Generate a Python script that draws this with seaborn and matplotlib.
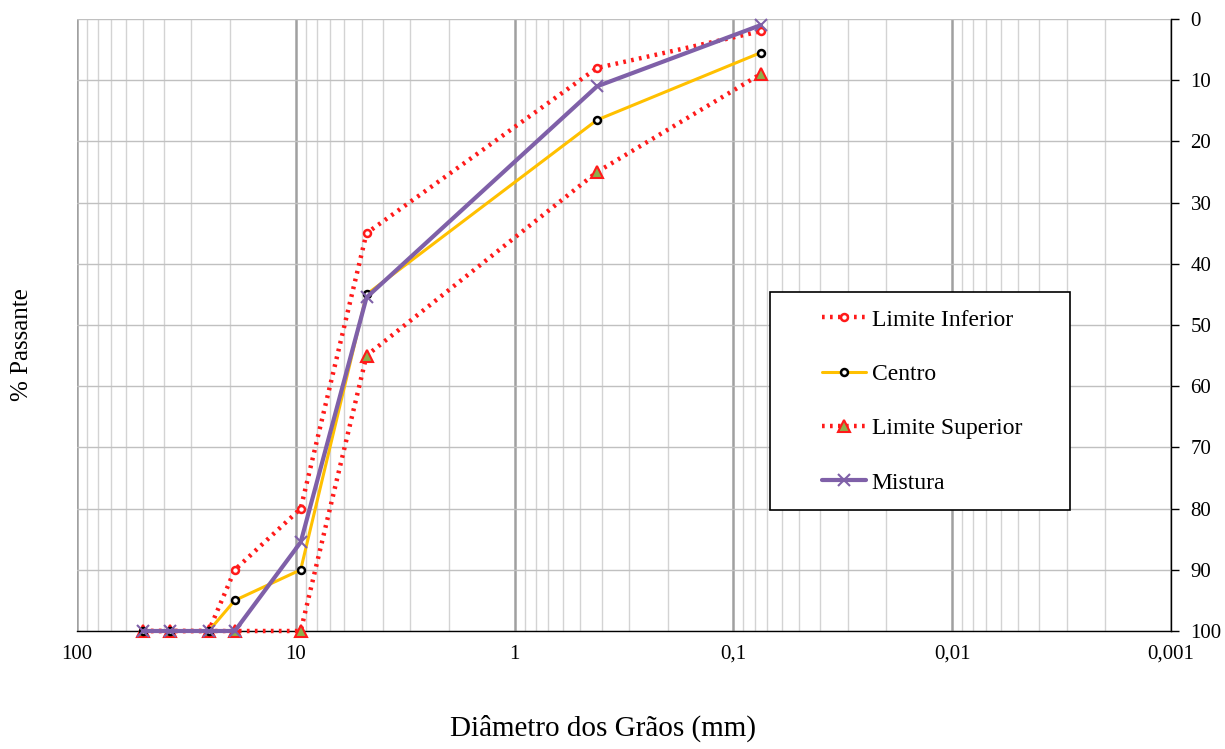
import numpy as np
import pandas as pd
import matplotlib
matplotlib.use("Agg")
import matplotlib.pyplot as plt
import seaborn as sns
from matplotlib.ticker import FixedLocator, LogLocator, NullFormatter
from matplotlib.patches import Rectangle

diametros = [50, 37.5, 25, 19, 9.5, 4.75, 0.42, 0.075]
limite_inferior = [100, 100, 100, 90, 80, 35, 8, 2]
centro = [100, 100, 100, 95, 90, 45, 16.5, 5.5]
limite_superior = [100, 100, 100, 100, 100, 55, 25, 9]
mistura = [100, 100, 100, 100, 85.5, 45.5, 11, 1]

x_ticks = [100, 10, 1, 0.1, 0.01, 0.001]
x_ticklabels = ["100", "10", "1", "0,1", "0,01", "0,001"]
y_ticks = [0, 10, 20, 30, 40, 50, 60, 70, 80, 90, 100]

sns.set_style("white")
plt.rcParams["font.family"] = ["Liberation Serif", "DejaVu Serif"]
plt.rcParams["text.color"] = "black"
plt.rcParams["axes.labelcolor"] = "black"
plt.rcParams["xtick.color"] = "black"
plt.rcParams["ytick.color"] = "black"

W, H = 1225, 749
L, R, T, B = 77, 1171, 19, 631
fig = plt.figure(figsize=(W / 100, H / 100), dpi=100)
ax = fig.add_axes([L / W, 1 - B / H, (R - L) / W, (B - T) / H])

df = pd.DataFrame({"d": diametros, "li": limite_inferior, "c": centro,
                   "ls": limite_superior, "m": mistura})

dot = (0, (0.6, 1.2))
sns.lineplot(data=df, x="d", y="li", ax=ax, color="#FF1A1A", linewidth=3.2,
             linestyle=dot, marker="o", markersize=5,
             markerfacecolor="white", markeredgecolor="#FF1A1A", markeredgewidth=1.8,
             label="Limite Inferior", estimator=None, sort=False, zorder=3, clip_on=False)
sns.lineplot(data=df, x="d", y="c", ax=ax, color="#FFC000", linewidth=2.2,
             marker="o", markersize=5, markerfacecolor="white",
             markeredgecolor="black", markeredgewidth=1.8,
             label="Centro", estimator=None, sort=False, zorder=4, clip_on=False)
sns.lineplot(data=df, x="d", y="ls", ax=ax, color="#FF1A1A", linewidth=3.2,
             linestyle=dot, marker="^", markersize=9,
             markerfacecolor="#8DB04A", markeredgecolor="#FF1A1A", markeredgewidth=1.5,
             label="Limite Superior", estimator=None, sort=False, zorder=3, clip_on=False)
sns.lineplot(data=df, x="d", y="m", ax=ax, color="#7F60A8", linewidth=3.0,
             marker="x", markersize=9, markeredgecolor="#7F60A8", markeredgewidth=1.5,
             label="Mistura", estimator=None, sort=False, zorder=5, clip_on=False)

ax.set_xscale("log")
ax.set_xlim(100, 0.001)
ax.set_ylim(100, 0)

ax.xaxis.set_major_locator(FixedLocator(x_ticks))
ax.set_xticklabels(x_ticklabels)
ax.xaxis.set_minor_locator(LogLocator(base=10, subs=np.arange(2, 10)))
ax.xaxis.set_minor_formatter(NullFormatter())
ax.set_yticks(y_ticks)

ax.yaxis.tick_right()

ax.grid(True, which="major", axis="x", color="#A0A0A0", linewidth=1.8)
ax.grid(True, which="minor", axis="x", color="#D3D3D3", linewidth=1.0)
ax.grid(True, which="major", axis="y", color="#C0C0C0", linewidth=1.0)
ax.set_axisbelow(True)

for s in ["top", "left"]:
    ax.spines[s].set_visible(False)
for s in ["right", "bottom"]:
    ax.spines[s].set_visible(True)
    ax.spines[s].set_color("black")
    ax.spines[s].set_linewidth(1.0)
    ax.spines[s].set_zorder(2)

ax.tick_params(axis="x", which="major", direction="out", length=6, width=1,
               colors="black", labelsize=15, pad=4)
ax.tick_params(axis="x", which="minor", length=0)
ax.tick_params(axis="y", which="major", direction="out", length=6, width=1,
               colors="black", labelsize=15, pad=8)

ax.set_xlabel("")
ax.set_ylabel("")
fig.text(603 / W, 1 - 728 / H, "Diâmetro dos Grãos (mm)", fontsize=21,
         ha="center", va="center", color="black")
fig.text(22 / W, 1 - 345 / H, "% Passante", fontsize=18, rotation=90,
         ha="center", va="center", color="black")

# legend box
bx0, bx1, by0, by1 = 770, 1070, 292, 510
rect = Rectangle(((bx0 - L) / (R - L), (B - by1) / (B - T)),
                 (bx1 - bx0) / (R - L), (by1 - by0) / (B - T),
                 transform=ax.transAxes, facecolor="white", edgecolor="black",
                 linewidth=1.2, zorder=9, clip_on=False)
ax.add_patch(rect)

leg = ax.legend(loc="upper left",
                bbox_to_anchor=((822 - L) / (R - L), (B - 309) / (B - T)),
                frameon=False, fontsize=17, labelspacing=1.39, handlelength=1.85,
                borderpad=0, handletextpad=0.25, borderaxespad=0, labelcolor="black")
leg.set_zorder(10)

fig.savefig("out.png", dpi=100)
